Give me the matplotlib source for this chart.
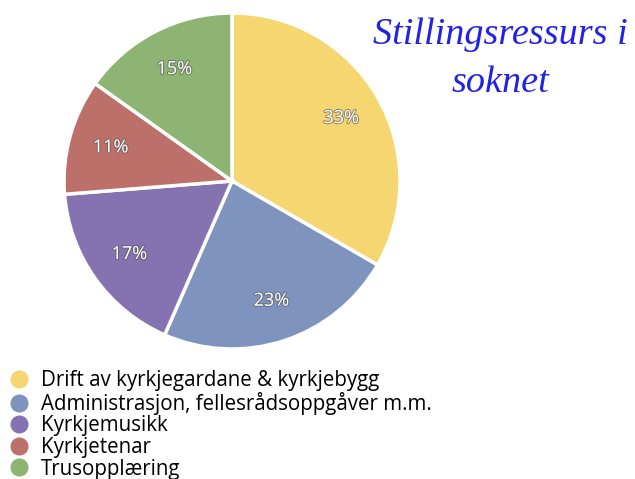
import matplotlib.pyplot as plt
from matplotlib.lines import Line2D
import matplotlib.patheffects as pe

kategoriar = ['Drift av kyrkjegardane & kyrkjebygg',
              'Administrasjon, fellesrådsoppgåver m.m.',
              'Kyrkjemusikk',
              'Kyrkjetenar',
              'Trusopplæring']
prosent = [33, 23, 17, 11, 15]
fargar = ['#f5d671', '#7e94bf', '#8573b1', '#bd706a', '#8db473']

W, H = 635, 479
fig = plt.figure(figsize=(W / 100, H / 100), dpi=100)

# kakediagram, sentrum ca (232,181) px, radius 168 px
cx, cy, r = 232, 181, 168
ax = fig.add_axes([(cx - r) / W, (H - cy - r) / H, 2 * r / W, 2 * r / H])
wedges, texts, autotexts = ax.pie(
    prosent, colors=fargar, startangle=90, counterclock=False,
    autopct='%d%%', pctdistance=0.75, radius=1,
    wedgeprops=dict(edgecolor='white', linewidth=2.5),
    textprops=dict(color='white', fontsize=13, family='Open Sans'))
for t in autotexts:
    t.set_path_effects([pe.Stroke(linewidth=1.5, foreground='#55555599'),
                        pe.Normal()])
ax.set_xlim(-1, 1)
ax.set_ylim(-1, 1)
ax.set_aspect('equal')

fig.text(500 / W, 1 - 44 / H, 'Stillingsressurs i', ha='center', va='baseline',
         family='Liberation Serif', style='italic', fontsize=27.5, color='#2222e6')
fig.text(500 / W, 1 - 92 / H, 'soknet', ha='center', va='baseline',
         family='Liberation Serif', style='italic', fontsize=27.5, color='#2222e6')

handles = [Line2D([], [], marker='o', linestyle='', markersize=12,
                  markerfacecolor=c, markeredgecolor=c) for c in fargar]
fig.legend(handles, kategoriar, loc='upper left', bbox_to_anchor=(0.008, 1 - 366 / H),
           frameon=False, handlelength=1.0, handletextpad=0.55, labelspacing=0.03,
           borderpad=0.2, borderaxespad=0.0, prop=dict(family='Open Sans', size=14.8))

fig.savefig('out.png', dpi=100, facecolor='white')
